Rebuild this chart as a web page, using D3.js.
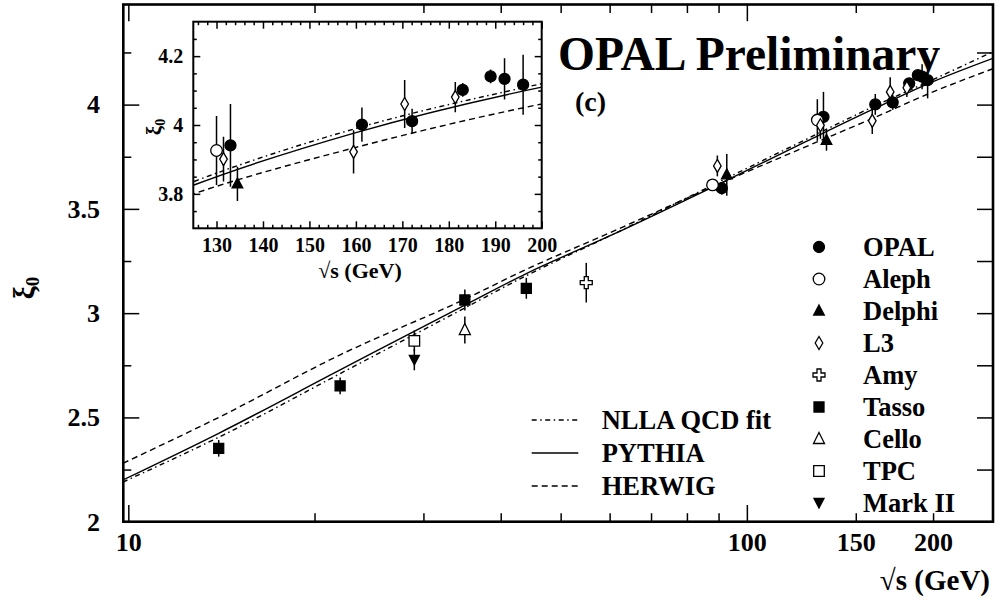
<!DOCTYPE html>
<html>
<head>
<meta charset="utf-8">
<script src="https://cdn.jsdelivr.net/npm/d3@7"></script>
<style>
  html, body { margin: 0; padding: 0; background: #fff; }
  svg { display: block; }
  text { font-family: "Liberation Serif", "Times New Roman", serif; font-weight: bold; fill: #000; }
</style>
</head>
<body>
<svg id="chart" width="1003" height="605"></svg>
<script>
// ---- data: peak position xi_0 of the ln(1/x_p) spectrum vs sqrt(s) ----
const experiments = ["OPAL", "Aleph", "Delphi", "L3", "Amy", "Tasso", "Cello", "TPC", "Mark II"];

const opalE   = [91.1, 133, 161.3, 172.1, 183, 189, 192, 196];
const opalXi  = [3.599, 3.941, 4.001, 4.011, 4.102, 4.141, 4.134, 4.117];
const opalErr = [0.03, 0.12, 0.05, 0.036, 0.02, 0.02, 0.06, 0.087];

const alephE   = [88.0, 130];
const alephXi  = [3.615, 3.926];
const alephErr = [0.02, 0.10];

const delphiE   = [92.8, 134.5];
const delphiXi  = [3.663, 3.829];
const delphiErr = [0.10, 0.05];

const l3E   = [89.6, 131.5, 159.5, 170.5, 181.4];
const l3Xi  = [3.706, 3.901, 3.922, 4.061, 4.081];
const l3Err = [0.05, 0.065, 0.063, 0.07, 0.044];

const amyE = [55], amyXi = [3.146], amyErr = [0.095];

const tassoE   = [14, 22, 35, 44];
const tassoXi  = [2.352, 2.651, 3.063, 3.119];
const tassoErr = [0.04, 0.04, 0.05, 0.05];

const celloE = [35], celloXi = [2.919], celloErr = [0.065];
const tpcE = [29], tpcXi = [2.867], tpcErr = [0.05];
const markIIE = [29], markIIXi = [2.776], markIIErr = [0.05];

// model predictions
const curveE    = [9.8, 14, 22, 35, 44, 60, 91, 125, 160, 200, 250];
const nllaXi    = [2.19, 2.405, 2.71, 3.025, 3.18, 3.37, 3.635, 3.835, 3.99, 4.12, 4.254];
const pythiaXi  = [2.20, 2.424, 2.728, 3.039, 3.19, 3.37, 3.625, 3.825, 3.978, 4.11, 4.222];
const herwigXi  = [2.28, 2.50, 2.80, 3.067, 3.21, 3.385, 3.625, 3.80, 3.935, 4.061, 4.172];
const modelNames = ["NLLA QCD fit", "PYTHIA", "HERWIG"];

// tick values
const mainXMajor = [10, 100];
const mainXMinor = [20, 30, 40, 50, 60, 70, 80, 90, 150, 200];
const mainXLabels = [10, 100, 150, 200];
const mainYMajor = [2, 2.5, 3, 3.5, 4];
const mainYMinor = [2.25, 2.75, 3.25, 3.75, 4.25];
const insetXMajor = [130, 140, 150, 160, 170, 180, 190, 200];
const insetYMajor = [3.8, 4.0, 4.2];

// ---- assemble series ----
const series = [
  {name: "OPAL",    marker: "circleFilled",  E: opalE,   Xi: opalXi,   Err: opalErr},
  {name: "Aleph",   marker: "circleOpen",    E: alephE,  Xi: alephXi,  Err: alephErr},
  {name: "Delphi",  marker: "triUpFilled",   E: delphiE, Xi: delphiXi, Err: delphiErr},
  {name: "L3",      marker: "diamondOpen",   E: l3E,     Xi: l3Xi,     Err: l3Err},
  {name: "Amy",     marker: "crossOpen",     E: amyE,    Xi: amyXi,    Err: amyErr},
  {name: "Tasso",   marker: "squareFilled",  E: tassoE,  Xi: tassoXi,  Err: tassoErr},
  {name: "Cello",   marker: "triUpOpen",     E: celloE,  Xi: celloXi,  Err: celloErr},
  {name: "TPC",     marker: "squareOpen",    E: tpcE,    Xi: tpcXi,    Err: tpcErr},
  {name: "Mark II", marker: "triDownFilled", E: markIIE, Xi: markIIXi, Err: markIIErr}
];
const models = [
  {name: modelNames[0], Xi: nllaXi,   dash: "5,3.5,1.5,3.5"},
  {name: modelNames[1], Xi: pythiaXi, dash: null},
  {name: modelNames[2], Xi: herwigXi, dash: "6,4"}
];

const svg = d3.select("#chart");

// ---- scales ----
const frame = {x0: 123.3, x1: 993, y0: 4.5, y1: 521.7};
const x = d3.scaleLog().domain([9.815, 250]).range([frame.x0, frame.x1]);
const y = d3.scaleLinear().domain([2, 4.48]).range([frame.y1, frame.y0]);

const inset = {x0: 193.3, x1: 541.7, y0: 21.7, y1: 228.3};
const xi = d3.scaleLinear().domain([125, 200]).range([inset.x0, inset.x1]);
const yi = d3.scaleLinear().domain([3.7, 4.3]).range([inset.y1, inset.y0]);

// ---- marker shapes ----
const shapes = {
  circleFilled:  {d: d3.symbol().type(d3.symbolCircle).size(Math.PI * 5.5 * 5.5)(), fill: "#000"},
  circleOpen:    {d: d3.symbol().type(d3.symbolCircle).size(Math.PI * 5.8 * 5.8)(), fill: "#fff"},
  triUpFilled:   {d: "M0,-6L5.3,4L-5.3,4Z", fill: "#000"},
  triUpOpen:     {d: "M0,-6.5L5.5,4.5L-5.5,4.5Z", fill: "#fff"},
  triDownFilled: {d: "M0,5L5,-4.5L-5,-4.5Z", fill: "#000"},
  diamondOpen:   {d: "M0,-6.5L3.8,0L0,6.5L-3.8,0Z", fill: "#fff"},
  crossOpen:     {d: "M-2,-6H2V-2H6V2H2V6H-2V2H-6V-2H-2Z", fill: "#fff"},
  squareFilled:  {d: "M-5,-5H5V5H-5Z", fill: "#000"},
  squareOpen:    {d: "M-5.3,-5.3H5.3V5.3H-5.3Z", fill: "#fff"}
};
function marker(g, kind, cx, cy) {
  const s = shapes[kind];
  g.append("path").attr("d", s.d)
    .attr("transform", `translate(${cx},${cy})`)
    .attr("fill", s.fill).attr("stroke", "#000").attr("stroke-width", 1.3);
}

// ---- tick helper built on d3 axes (ticks point into the frame) ----
function axisTicks(sel, axisFn, scale, values, size, fmt, pad, fontSize) {
  const a = axisFn(scale).tickValues(values).tickSize(size).tickSizeOuter(0)
    .tickPadding(pad).tickFormat(fmt || (() => ""));
  sel.call(a);
  sel.select(".domain").remove();
  sel.selectAll(".tick line").attr("stroke", "#000").attr("stroke-width", 1.5);
  sel.selectAll(".tick text").attr("font-size", fontSize || 26)
    .style("font-family", '"Liberation Serif", "Times New Roman", serif')
    .style("font-weight", "bold").attr("fill", "#000");
  return sel;
}

// ================= main panel =================
svg.append("clipPath").attr("id", "clipMain")
  .append("rect").attr("x", frame.x0).attr("y", frame.y0)
  .attr("width", frame.x1 - frame.x0).attr("height", frame.y1 - frame.y0);

const lineMain = d3.line().x((d, i) => x(curveE[i])).y(d => y(d)).curve(d3.curveMonotoneX);
const gCurves = svg.append("g").attr("clip-path", "url(#clipMain)");
models.forEach(m => {
  gCurves.append("path").attr("d", lineMain(m.Xi))
    .attr("fill", "none").attr("stroke", "#000").attr("stroke-width", 1.4)
    .attr("stroke-dasharray", m.dash);
});

// data points
const gPts = svg.append("g");
series.forEach(s => {
  s.E.forEach((e, i) => {
    gPts.append("line").attr("x1", x(e)).attr("x2", x(e))
      .attr("y1", y(s.Xi[i] - s.Err[i])).attr("y2", y(s.Xi[i] + s.Err[i]))
      .attr("stroke", "#000").attr("stroke-width", 1.5);
  });
});
series.forEach(s => {
  s.E.forEach((e, i) => marker(gPts, s.marker, x(e), y(s.Xi[i])));
});

// axes: bottom, top, left, right
axisTicks(svg.append("g").attr("transform", `translate(0,${frame.y1})`),
  d3.axisBottom, x, mainXMinor, -8.5, null, 0);
axisTicks(svg.append("g").attr("transform", `translate(0,${frame.y1})`),
  d3.axisBottom, x, mainXMajor, -16.7, null, 0);
axisTicks(svg.append("g").attr("transform", `translate(0,${frame.y1})`),
  d3.axisBottom, x, mainXLabels, 0, d3.format("d"), 11, 26);
axisTicks(svg.append("g").attr("transform", `translate(0,${frame.y0})`),
  d3.axisTop, x, mainXMinor, -8.5, null, 0);
axisTicks(svg.append("g").attr("transform", `translate(0,${frame.y0})`),
  d3.axisTop, x, mainXMajor, -16.7, null, 0);

axisTicks(svg.append("g").attr("transform", `translate(${frame.x0},0)`),
  d3.axisLeft, y, mainYMinor, -8, null, 0);
axisTicks(svg.append("g").attr("transform", `translate(${frame.x0},0)`),
  d3.axisLeft, y, mainYMajor, -16, d => d3.format("")(d), 23.3, 26);
axisTicks(svg.append("g").attr("transform", `translate(${frame.x1},0)`),
  d3.axisRight, y, mainYMinor.concat(mainYMajor), -16, null, 0);

svg.append("rect").attr("x", frame.x0).attr("y", frame.y0)
  .attr("width", frame.x1 - frame.x0).attr("height", frame.y1 - frame.y0)
  .attr("fill", "none").attr("stroke", "#000").attr("stroke-width", 2.6);

// axis titles
svg.append("text").attr("x", 990).attr("y", 590).attr("text-anchor", "end")
  .attr("font-size", 29).text("\u221As (GeV)");
const yTitle = svg.append("text").attr("transform", "translate(34,288) rotate(-90)")
  .attr("text-anchor", "middle").attr("font-size", 29);
yTitle.append("tspan").text("\u03BE");
yTitle.append("tspan").attr("font-size", 19).attr("dy", 5).text("0");

// title
svg.append("text").attr("x", 558).attr("y", 70).attr("font-size", 47.5).text("OPAL Preliminary");
svg.append("text").attr("x", 575).attr("y", 111).attr("font-size", 28).text("(c)");

// experiment legend
const legY = d3.scalePoint().domain(experiments).range([247, 503]);
series.forEach(s => {
  marker(svg, s.marker, 819, legY(s.name));
  svg.append("text").attr("x", 863).attr("y", legY(s.name)).attr("dy", "0.34em")
    .attr("font-size", 26.5).text(s.name);
});

// model legend
const modY = d3.scalePoint().domain(modelNames).range([420, 486]);
models.forEach(m => {
  svg.append("line").attr("x1", 531.7).attr("x2", 578.3)
    .attr("y1", modY(m.name)).attr("y2", modY(m.name))
    .attr("stroke", "#000").attr("stroke-width", 1.4).attr("stroke-dasharray", m.dash);
  svg.append("text").attr("x", 601.7).attr("y", modY(m.name)).attr("dy", "0.34em")
    .attr("font-size", 26.5).text(m.name);
});

// ================= inset panel =================
const gIn = svg.append("g");
gIn.append("rect").attr("x", inset.x0).attr("y", inset.y0)
  .attr("width", inset.x1 - inset.x0).attr("height", inset.y1 - inset.y0).attr("fill", "#fff");
gIn.append("clipPath").attr("id", "clipIn")
  .append("rect").attr("x", inset.x0).attr("y", inset.y0)
  .attr("width", inset.x1 - inset.x0).attr("height", inset.y1 - inset.y0);

const lineIn = d3.line().x((d, i) => xi(curveE[i])).y(d => yi(d)).curve(d3.curveMonotoneX);
const gInCurves = gIn.append("g").attr("clip-path", "url(#clipIn)");
models.forEach(m => {
  gInCurves.append("path").attr("d", lineIn(m.Xi))
    .attr("fill", "none").attr("stroke", "#000").attr("stroke-width", 1.4)
    .attr("stroke-dasharray", m.dash);
});

const gInPts = gIn.append("g").attr("clip-path", "url(#clipIn)");
series.forEach(s => {
  s.E.forEach((e, i) => {
    if (e < 125 || e > 200) return;
    gInPts.append("line").attr("x1", xi(e)).attr("x2", xi(e))
      .attr("y1", yi(s.Xi[i] - s.Err[i])).attr("y2", yi(s.Xi[i] + s.Err[i]))
      .attr("stroke", "#000").attr("stroke-width", 1.5);
  });
});
series.forEach(s => {
  s.E.forEach((e, i) => {
    if (e < 125 || e > 200) return;
    marker(gInPts, s.marker, xi(e), yi(s.Xi[i]));
  });
});

const insetXMinor = d3.range(126, 200, 2).filter(v => v % 10 !== 0);
const insetYMinor = d3.range(3.75, 4.3, 0.05).filter(v => Math.abs(v * 5 - Math.round(v * 5)) > 1e-6);

axisTicks(gIn.append("g").attr("transform", `translate(0,${inset.y1})`),
  d3.axisBottom, xi, insetXMinor, -3.5, null, 0);
axisTicks(gIn.append("g").attr("transform", `translate(0,${inset.y1})`),
  d3.axisBottom, xi, insetXMajor, -7, d3.format("d"), 10, 20);
axisTicks(gIn.append("g").attr("transform", `translate(0,${inset.y0})`),
  d3.axisTop, xi, insetXMinor, -3.5, null, 0);
axisTicks(gIn.append("g").attr("transform", `translate(0,${inset.y0})`),
  d3.axisTop, xi, insetXMajor, -7, null, 0);
axisTicks(gIn.append("g").attr("transform", `translate(${inset.x0},0)`),
  d3.axisLeft, yi, insetYMinor, -3.5, null, 0);
axisTicks(gIn.append("g").attr("transform", `translate(${inset.x0},0)`),
  d3.axisLeft, yi, insetYMajor, -7, d => d3.format("")(+d.toFixed(1)), 10, 20);
axisTicks(gIn.append("g").attr("transform", `translate(${inset.x1},0)`),
  d3.axisRight, yi, insetYMinor, -3.5, null, 0);
axisTicks(gIn.append("g").attr("transform", `translate(${inset.x1},0)`),
  d3.axisRight, yi, insetYMajor, -7, null, 0);

gIn.append("rect").attr("x", inset.x0).attr("y", inset.y0)
  .attr("width", inset.x1 - inset.x0).attr("height", inset.y1 - inset.y0)
  .attr("fill", "none").attr("stroke", "#000").attr("stroke-width", 2);

gIn.append("text").attr("x", 360).attr("y", 278).attr("text-anchor", "middle")
  .attr("font-size", 22).text("\u221As (GeV)");
const yTitleIn = gIn.append("text").attr("transform", "translate(161,127) rotate(-90)")
  .attr("text-anchor", "middle").attr("font-size", 21);
yTitleIn.append("tspan").text("\u03BE");
yTitleIn.append("tspan").attr("font-size", 14).attr("dy", 4).text("0");
</script>
</body>
</html>
